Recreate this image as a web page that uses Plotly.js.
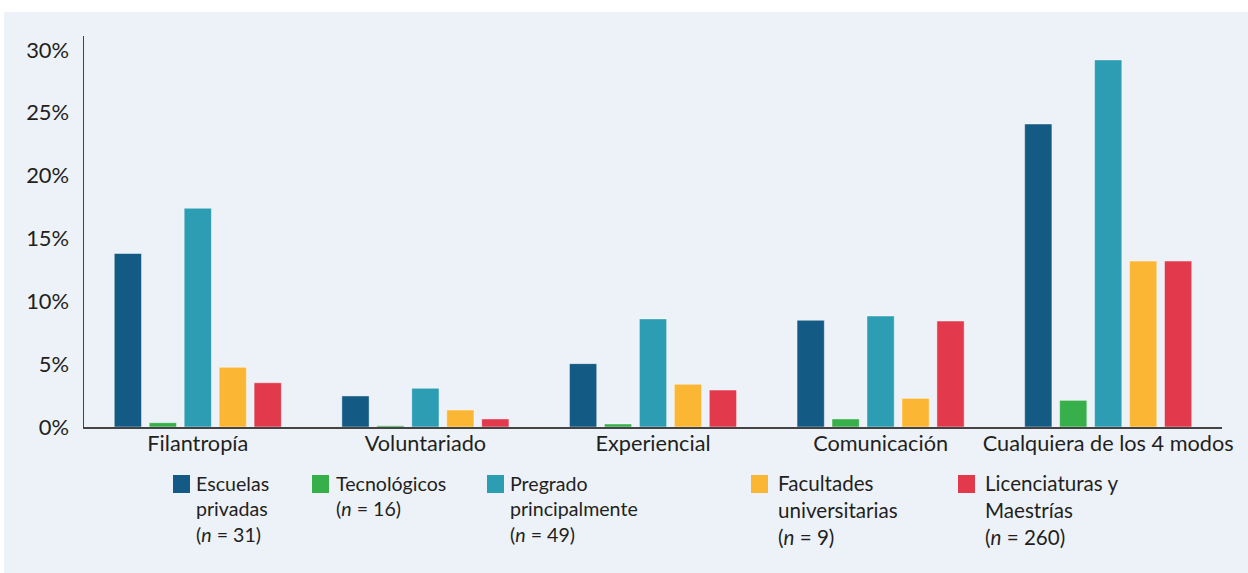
<!DOCTYPE html>
<html>
<head>
<meta charset="utf-8">
<script src="https://cdn.plot.ly/plotly-3.0.1.min.js"></script>
<style>
  html, body { margin: 0; padding: 0; background: #ffffff; width: 1248px; height: 573px; overflow: hidden; }
  #chart { position: absolute; left: 4px; top: 12px; width: 1244px; height: 561px; }
</style>
</head>
<body>
<div id="chart"></div>
<script>
const categories = ["Filantropía", "Voluntariado", "Experiencial", "Comunicación", "Cualquiera de los 4 modos"];

const seriesNames = [
  "Escuelas<br>privadas<br>(<i>n</i> = 31)",
  "Tecnológicos<br>(<i>n</i> = 16)",
  "Pregrado<br>principalmente<br>(<i>n</i> = 49)",
  "Facultades<br>universitarias<br>(<i>n</i> = 9)",
  "Licenciaturas y<br>Maestrías<br>(<i>n</i> = 260)"
];

const escuelasPrivadas   = [13.8, 2.47, 5.04, 8.49, 24.1];
const tecnologicos       = [0.34, 0.1, 0.24, 0.64, 2.12];
const pregrado           = [17.4, 3.08, 8.6, 8.83, 29.2];
const facultades         = [4.75, 1.35, 3.4, 2.28, 13.2];
const licenciaturas      = [3.52, 0.64, 2.94, 8.43, 13.2];

const colors = ["#135A85", "#37AF4A", "#2C9DB3", "#FBB634", "#E23A4C"];
const yTickVals = [0, 5, 10, 15, 20, 25, 30];
const yTickText = ["0%", "5%", "10%", "15%", "20%", "25%", "30%"];

const allSeries = [escuelasPrivadas, tecnologicos, pregrado, facultades, licenciaturas];

const traces = allSeries.map((vals, i) => ({
  type: "bar",
  x: categories,
  y: vals,
  name: seriesNames[i].replace(/<br>/g, " "),
  marker: { color: colors[i], line: { color: "rgba(255,255,255,0.45)", width: 1 } },
  showlegend: false,
  hoverinfo: "x+y"
}));

// Manual legend drawn in paper coordinates of the plot area
const FONT = "Lato, 'Open Sans', sans-serif";
const plotLeft = 80, plotWidth = 1244 - 80 - 26, plotH = 391, plotBottomPage = 427;
const legendSquareX = [173, 312, 487, 751, 958];
const legendTextX = [196, 335.5, 509.5, 777.5, 984.5];
const legendFontSize = [19.6, 19.6, 19.6, 20.6, 20.6];
const px2x = p => (p - 4 - plotLeft) / plotWidth;
const py2y = p => (plotBottomPage - p) / plotH;

const shapes = [];
const annotations = [];
seriesNames.forEach((name, i) => {
  shapes.push({
    type: "rect", xref: "paper", yref: "paper",
    x0: px2x(legendSquareX[i]), x1: px2x(legendSquareX[i] + 17),
    y0: py2y(493), y1: py2y(475),
    fillcolor: colors[i], line: { width: 0 }
  });
  annotations.push({
    xref: "paper", yref: "paper",
    x: px2x(legendTextX[i] - 2),
    y: py2y(legendFontSize[i] > 20 ? 469 : 470),
    xanchor: "left", yanchor: "top", align: "left",
    showarrow: false,
    text: name,
    font: { family: FONT, size: legendFontSize[i], color: "#231F20" }
  });
});

const layout = {
  width: 1244,
  height: 561,
  margin: { l: 80, r: 26, t: 24, b: 146 },
  paper_bgcolor: "#EDF2F9",
  plot_bgcolor: "#EDF2F9",
  font: { family: FONT, size: 21.7, color: "#231F20" },
  barmode: "group",
  bargap: 0.232,
  bargroupgap: 0.22,
  xaxis: {
    type: "category",
    showline: true, linecolor: "#444", linewidth: 2,
    showgrid: false, ticks: "", zeroline: false,
    ticklabelstandoff: -4,
    tickfont: { family: FONT, size: 21.7, color: "#231F20" },
    fixedrange: true
  },
  yaxis: {
    range: [0, 31.1],
    tickvals: yTickVals, ticktext: yTickText,
    showline: true, linecolor: "#444", linewidth: 1.5,
    showgrid: false, zeroline: false, ticks: "",
    ticklabelstandoff: 9,
    tickfont: { family: FONT, size: 21.9, color: "#231F20" },
    fixedrange: true
  },
  shapes: shapes,
  annotations: annotations
};

Plotly.newPlot("chart", traces, layout, { displayModeBar: false, staticPlot: true });
</script>
</body>
</html>
